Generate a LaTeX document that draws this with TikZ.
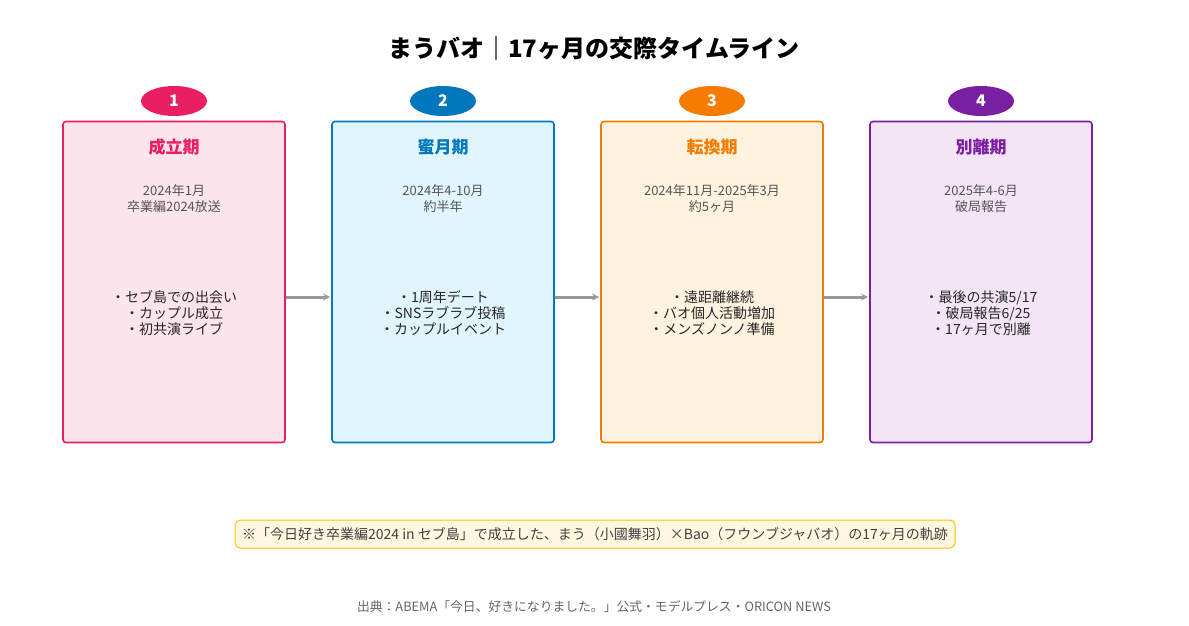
\documentclass[tikz,border=0pt]{standalone}
\usepackage{fontspec}
\setmainfont{Noto Sans CJK JP}
\usepackage{tikz}
\usetikzlibrary{positioning}
\usetikzlibrary{calc}
\usetikzlibrary{arrows.meta}
\usetikzlibrary{shapes.geometric}
\definecolor{cpink}{HTML}{E91E63}
\definecolor{cblue}{HTML}{0277BD}
\definecolor{corange}{HTML}{F57C00}
\definecolor{cpurple}{HTML}{7B1FA2}
\definecolor{fpink}{HTML}{FCE4EC}
\definecolor{fblue}{HTML}{E1F5FE}
\definecolor{forange}{HTML}{FFF3E0}
\definecolor{fpurple}{HTML}{F3E5F5}
\definecolor{cgray}{HTML}{555555}
\definecolor{cnote}{HTML}{FFC107}
\definecolor{fnote}{HTML}{FFF8E1}
\tikzset{
phase/.style={
  rectangle,rounded corners=3pt,
  line width=1.6pt,
  minimum width=222pt,
  minimum height=321pt,
  inner sep=0pt
  },
num/.style={
  ellipse,inner sep=0pt,
  minimum width=66pt,minimum height=30pt,
  text=white,font=\fontsize{16}{18}\selectfont\bfseries
  },
head/.style={font=\fontsize{17}{19}\selectfont\bfseries},
date/.style={text=cgray,align=center,font=\fontsize{13}{16}\selectfont},
items/.style={text=black!85,align=center,font=\fontsize{14}{16}\selectfont},
link/.style={-{Stealth[length=7pt,width=7pt]},draw=black!40,line width=3pt,shorten >=1pt}
}
\begin{document}
\begin{tikzpicture}[x=1pt,y=-1pt]
  \useasboundingbox (0,0) rectangle (1189,625);
  \node[font=\fontsize{24}{28}\selectfont\bfseries] (title) at (594,48) {まうバオ｜17ヶ月の交際タイムライン};
  % phases
  \node[phase,draw=cpink,fill=fpink] (p1) at (174,282) {};
  \node[phase,draw=cblue,fill=fblue] (p2) at (443,282) {};
  \node[phase,draw=corange,fill=forange] (p3) at (712,282) {};
  \node[phase,draw=cpurple,fill=fpurple] (p4) at (981,282) {};
  \node[num,fill=cpink] (n1) at (174,101) {1};
  \node[num,fill=cblue] (n2) at (443,101) {2};
  \node[num,fill=corange] (n3) at (712,101) {3};
  \node[num,fill=cpurple] (n4) at (981,101) {4};
  \node[head,text=cpink] (h1) at (174,147) {成立期};
  \node[head,text=cblue] (h2) at (443,147) {蜜月期};
  \node[head,text=corange] (h3) at (712,147) {転換期};
  \node[head,text=cpurple] (h4) at (981,147) {別離期};
  \node[date] (d1) at (174,199) {2024年1月\\卒業編2024放送};
  \node[date] (d2) at (443,199) {2024年4-10月\\約半年};
  \node[date] (d3) at (712,199) {2024年11月-2025年3月\\約5ヶ月};
  \node[date] (d4) at (981,199) {2025年4-6月\\破局報告};
  \node[items] (i1) at (174,313) {・セブ島での出会い\\・カップル成立\\・初共演ライブ};
  \node[items] (i2) at (443,313) {・1周年デート\\・SNSラブラブ投稿\\・カップルイベント};
  \node[items] (i3) at (712,313) {・遠距離継続\\・バオ個人活動増加\\・メンズノンノ準備};
  \node[items] (i4) at (981,313) {・最後の共演5/17\\・破局報告6/25\\・17ヶ月で別離};
  % arrows
  \draw[link] (p1.east |- 0,297) -- (p2.west |- 0,297);
  \draw[link] (p2.east |- 0,297) -- (p3.west |- 0,297);
  \draw[link] (p3.east |- 0,297) -- (p4.west |- 0,297);
  % notes
  \node[draw=cnote,fill=fnote,rounded corners=5pt,line width=1pt,
    minimum width=720pt,minimum height=28pt,text=black!75,font=\fontsize{14}{16}\selectfont]
    (note) at (595,534) {※「今日好き卒業編2024 in セブ島」で成立した、まう（小國舞羽）×Bao（フウンブジャバオ）の17ヶ月の軌跡};
  \node[text=black!60,font=\fontsize{12.8}{14}\selectfont] (src) at (594,607)
    {出典：ABEMA「今日、好きになりました。」公式・モデルプレス・ORICON NEWS};
\end{tikzpicture}
\end{document}
